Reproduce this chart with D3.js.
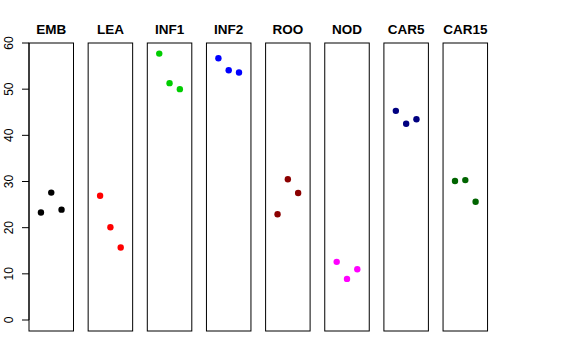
<!DOCTYPE html>
<html><head><meta charset="utf-8">
<script src="https://cdn.jsdelivr.net/npm/d3@7"></script>
<style>body{margin:0;background:#fff}svg{display:block}text{font-family:"Liberation Sans",Arial,sans-serif}</style>
</head><body><svg id="c" width="576" height="360"></svg>
<script>
const categories = ["EMB","LEA","INF1","INF2","ROO","NOD","CAR5","CAR15"];
const colors = ["#000000","#FF0000","#00CD00","#0000FF","#8B0000","#FF00FF","#000080","#006400"];
const values = [
  [23.3, 27.6, 23.9],
  [26.9, 20.1, 15.7],
  [57.7, 51.3, 50.0],
  [56.7, 54.1, 53.6],
  [22.9, 30.5, 27.5],
  [12.6, 8.9, 11.0],
  [45.3, 42.5, 43.5],
  [30.1, 30.3, 25.6]
];
const yTicks = [0,10,20,30,40,50,60];

const svg = d3.select("#c");
const y = d3.scaleLinear().domain([-2.38, 60]).range([331, 43]);
const step = 59.15, panelW = 44.5, x0 = 29;
const x = d3.scaleLinear().domain([-0.16, 4.16]).range([0, panelW]);

categories.forEach((cat, i) => {
  const g = svg.append("g").attr("transform", `translate(${x0 + i*step},0)`);
  g.append("rect").attr("x", 0).attr("y", y(60)).attr("width", panelW)
    .attr("height", y(-2.38) - y(60)).attr("fill", "none").attr("stroke", "#000").attr("stroke-width", 1);
  g.append("text").attr("x", panelW/2).attr("y", 34).attr("text-anchor", "middle")
    .attr("font-weight", "bold").attr("font-size", "13.5px").text(cat);
  g.selectAll("circle").data(values[i]).enter().append("circle")
    .attr("cx", (d, j) => x(j+1)).attr("cy", d => y(d)).attr("r", 3.2).attr("fill", colors[i]);
});

const ax = svg.append("g").attr("transform", `translate(${x0},0)`);
ax.append("line").attr("x1", 0).attr("x2", 0).attr("y1", y(0)).attr("y2", y(60)).attr("stroke", "#000");
yTicks.forEach(t => {
  ax.append("line").attr("x1", -7).attr("x2", 0).attr("y1", y(t)).attr("y2", y(t)).attr("stroke", "#000");
  ax.append("text").attr("transform", `translate(-16,${y(t)}) rotate(-90)`)
    .attr("text-anchor", "middle").attr("font-size", "12px").text(t);
});
</script></body></html>
